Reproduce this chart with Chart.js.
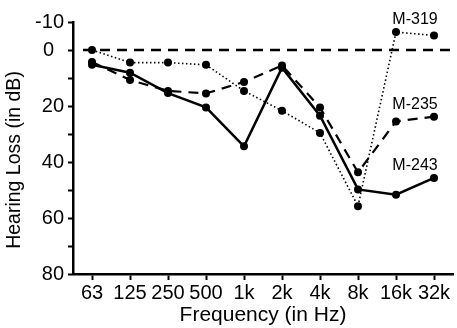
<!DOCTYPE html>
<html>
<head>
<meta charset="utf-8">
<script src="https://cdn.jsdelivr.net/npm/chart.js@4/dist/chart.umd.min.js"></script>
<style>
  html, body { margin: 0; padding: 0; background: #fff; }
  #wrap { width: 457px; height: 328px; }
</style>
</head>
<body>
<div id="wrap"><canvas id="chart"></canvas></div>
<script>
// ── Data ───────────────────────────────────────────
const FREQS = ["63", "125", "250", "500", "1k", "2k", "4k", "8k", "16k", "32k"];
const M319  = [0, 4.5, 4.5, 5.3, 14.6, 21.7, 29.6, 55.8, -6.4, -5.2];
const M235  = [4.3, 10.7, 14.6, 15.5, 11.4, 5.5, 20.5, 43.7, 25.5, 23.8];
const M243  = [5.3, 8.1, 15.4, 20.5, 34.4, 6.3, 23.5, 49.8, 51.7, 45.7];
const Y_LABELLED = [-10, 0, 20, 40, 60, 80];

// series names written next to the right end of each curve
const SERIES_NAMES = ["M-319", "M-235", "M-243"];
const NAME_AT = [-11, 19.5, 41.3];   // y value of each name

const FONT = "'Liberation Sans', Arial, sans-serif";

// ── Plugins ────────────────────────────────────────
const zeroLine = {
  id: "zeroLine",
  beforeDatasetsDraw(chart) {
    const { ctx, chartArea, scales } = chart;
    const y = scales.y.getPixelForValue(0);
    ctx.save();
    ctx.strokeStyle = "#000";
    ctx.lineWidth = 2.5;
    ctx.setLineDash([10, 7]);
    ctx.beginPath();
    ctx.moveTo(chartArea.left + 10, y);
    ctx.lineTo(chartArea.right + 2, y);
    ctx.stroke();
    ctx.restore();
  },
};

const textBits = {
  id: "textBits",
  afterDraw(chart) {
    const { ctx, scales } = chart;
    ctx.save();
    ctx.fillStyle = "#000";
    ctx.textAlign = "center";
    ctx.textBaseline = "middle";

    // series names
    ctx.font = `16px ${FONT}`;
    const x = scales.x.getPixelForValue(8.5);
    SERIES_NAMES.forEach((name, i) => {
      ctx.fillText(name, x, scales.y.getPixelForValue(NAME_AT[i]));
    });

    // y axis title
    ctx.font = `19.5px ${FONT}`;
    ctx.translate(15, 160);
    ctx.rotate(-Math.PI / 2);
    ctx.fillText("Hearing Loss (in dB)", 0, 0);
    ctx.restore();
  },
};

// ── Chart ──────────────────────────────────────────
const line = (data, dash, width) => ({
  data,
  borderColor: "#000",
  borderWidth: width,
  borderDash: dash,
  backgroundColor: "#000",
  pointBackgroundColor: "#000",
  pointBorderWidth: 0,
  pointRadius: 4,
  tension: 0,
  fill: false,
});

new Chart(document.getElementById("chart"), {
  type: "line",
  data: {
    labels: FREQS,
    datasets: [
      line(M243, [], 2.5),
      line(M235, [10, 7], 2.2),
      line(M319, [1.5, 2.5], 1.6),
    ],
  },
  options: {
    responsive: true,
    maintainAspectRatio: false,
    animation: false,
    layout: { padding: { top: 22, right: 2, bottom: 0, left: 0 } },
    plugins: { legend: { display: false }, tooltip: { enabled: false } },
    scales: {
      x: {
        offset: true,
        afterFit(s) { s.height = 54; },
        grid: { drawOnChartArea: false, drawTicks: true, tickLength: 6, tickWidth: 2, tickColor: "#000" },
        border: { display: true, color: "#000", width: 2.5 },
        ticks: { color: "#000", font: { family: FONT, size: 20 }, padding: 1, maxRotation: 0, autoSkip: false },
        title: {
          display: true,
          text: "Frequency (in Hz)",
          color: "#000",
          font: { family: FONT, size: 21 },
          padding: { top: 0, bottom: 0 },
        },
      },
      y: {
        reverse: true,
        min: -10,
        max: 80,
        afterFit(s) { s.width = 73; },
        grid: { drawOnChartArea: false, drawTicks: true, tickLength: 5, tickWidth: 2, tickColor: "#000" },
        border: { display: true, color: "#000", width: 2.5 },
        ticks: {
          stepSize: 10,
          autoSkip: false,
          color: "#000",
          padding: 4,
          font: { family: FONT, size: 20 },
          callback: v => Y_LABELLED.includes(v) ? (v === 0 ? "0\u2002" : String(v)) : "",
        },
      },
    },
  },
  plugins: [zeroLine, textBits],
});
</script>
</body>
</html>
